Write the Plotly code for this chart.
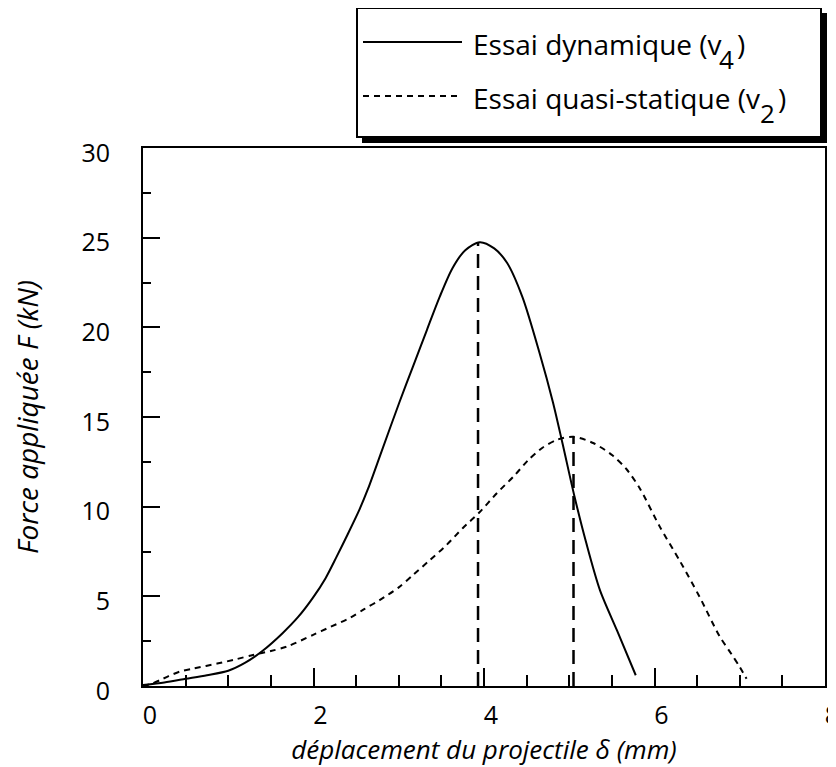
import plotly.graph_objects as go

# Essai dynamique (v4) - courbe continue
dyn_x = [0.0, 0.25, 0.5, 0.75, 1.0, 1.2, 1.4, 1.64, 1.82, 1.99, 2.14, 2.27, 2.4,
         2.54, 2.64, 2.8, 3.01, 3.17, 3.33, 3.48, 3.63, 3.78, 3.95, 4.12, 4.27,
         4.45, 4.65, 4.81, 4.92, 5.06, 5.2, 5.36, 5.56, 5.78]
dyn_F = [0.05, 0.2, 0.4, 0.6, 0.85, 1.3, 1.95, 2.96, 3.85, 4.9, 6.0, 7.2, 8.45,
         9.85, 11.0, 13.1, 15.85, 17.85, 19.85, 21.7, 23.3, 24.3, 24.75, 24.4, 23.6,
         21.7, 18.6, 15.8, 13.55, 10.6, 7.97, 5.35, 3.1, 0.6]

# Essai quasi-statique (v2) - courbe pointillée
qs_x = [0.0, 0.1, 0.2, 0.3, 0.43, 0.6, 0.87, 1.1, 1.29, 1.5, 1.69, 1.99, 2.2,
        2.43, 2.6, 2.78, 3.0, 3.17, 3.36, 3.56, 3.75, 3.95, 4.15, 4.35, 4.52,
        4.69, 4.87, 5.05, 5.28, 5.51, 5.67, 5.83, 6.06, 6.3, 6.53, 6.76, 6.9,
        7.0, 7.08]
qs_F = [0.0, 0.12, 0.33, 0.55, 0.8, 0.98, 1.25, 1.5, 1.73, 1.95, 2.2, 2.84, 3.3,
        3.8, 4.3, 4.8, 5.5, 6.2, 7.0, 7.86, 8.8, 9.7, 10.75, 11.7, 12.6,
        13.3, 13.75, 13.9, 13.55, 12.85, 12.1, 11.0, 8.9, 6.95, 4.96, 2.8, 1.8,
        1.06, 0.4]

# Positions des maxima (lignes verticales)
peak_x = [3.93, 5.05]
peak_F = [24.75, 13.9]

x_ticks = [0, 2, 4, 6, 8]
y_ticks = [0, 5, 10, 15, 20, 25, 30]

FONT = "Open Sans"

fig = go.Figure()

fig.add_trace(go.Scatter(
    x=dyn_x, y=dyn_F, mode="lines",
    line=dict(color="black", width=2, shape="spline", smoothing=0.8),
    name="Essai dynamique (v4)",
))
fig.add_trace(go.Scatter(
    x=qs_x, y=qs_F, mode="lines",
    line=dict(color="black", width=2, dash="6px,5px", shape="spline", smoothing=0.8),
    name="Essai quasi-statique (v2)",
))
for px_, pf in zip(peak_x, peak_F):
    fig.add_trace(go.Scatter(
        x=[px_, px_], y=[0, pf], mode="lines",
        line=dict(color="black", width=2.5, dash="14px,8px"),
        showlegend=False, hoverinfo="skip",
    ))

fig.update_xaxes(
    range=[0, 8], tickvals=x_ticks, automargin=False,
    ticks="inside", ticklen=18, tickwidth=2, tickcolor="black",
    minor=dict(dtick=0.5, ticks="inside", ticklen=11, tickwidth=2, tickcolor="black"),
    showline=True, linewidth=2, linecolor="black", mirror=True,
    showgrid=False, zeroline=False,
    tickfont=dict(family=FONT, size=25, color="black"),
    ticklabelstandoff=6, ticklabelshift=7, ticklabeloverflow="allow",
    title=dict(text="déplacement du projectile δ (mm)",
               font=dict(family=FONT, size=26, color="black", style="italic"),
               standoff=7),
)
fig.update_yaxes(
    range=[0, 30], tickvals=y_ticks, automargin=False,
    ticks="inside", ticklen=17, tickwidth=2, tickcolor="black",
    minor=dict(dtick=2.5, ticks="inside", ticklen=8, tickwidth=2, tickcolor="black"),
    showline=True, linewidth=2, linecolor="black", mirror=True,
    showgrid=False, zeroline=False,
    tickfont=dict(family=FONT, size=25, color="black"),
    ticklabelstandoff=26, ticklabelshift=5,
    title=dict(text="Force appliquée F (kN)",
               font=dict(family=FONT, size=28, color="black", style="italic"),
               standoff=56),
)


# legend box drawn by hand (long line samples + drop shadow)
# page coords -> paper coords (plot area spans 143..825 x 148..686 on the page)
def px_to_paper(xp, yp):
    return (xp - 143) / 682, (686 - yp) / 538


x0, y0 = px_to_paper(362, 13)
x1, y1 = px_to_paper(827, 143)
fig.add_shape(type="rect", xref="paper", yref="paper", x0=x0, x1=x1, y0=y1, y1=y0,
              fillcolor="black", line=dict(width=0), layer="above")
x0, y0 = px_to_paper(357, 8)
x1, y1 = px_to_paper(821, 137)
fig.add_shape(type="rect", xref="paper", yref="paper", x0=x0, x1=x1, y0=y1, y1=y0,
              fillcolor="white", line=dict(color="black", width=2), layer="above")


def add_text(text, xp, yp, anchor, size):
    tx, ty = px_to_paper(xp, yp)
    fig.add_annotation(xref="paper", yref="paper", x=tx, y=ty, text=text,
                       showarrow=False, xanchor=anchor, yanchor="middle",
                       font=dict(family=FONT, size=size, color="black"))


# (label, subscript, line y, end of "(v" in px, dash)
entries = [("Essai dynamique (v", "4", 42, 717, "solid"),
           ("Essai quasi-statique (v", "2", 96, 758, "6px,5px")]
for label, digit, ypix, xend, dash in entries:
    lx0, ly = px_to_paper(363, ypix)
    lx1, _ = px_to_paper(462, ypix)
    fig.add_shape(type="line", xref="paper", yref="paper", x0=lx0, x1=lx1, y0=ly, y1=ly,
                  line=dict(color="black", width=2, dash=dash), layer="above")
    add_text(label, 471, ypix + 2, "left", 28)
    add_text(digit, xend, ypix + 17, "left", 26)
    add_text(")", xend + 18, ypix + 2, "left", 28)

# page body has an 8px margin: shrink the figure so the plot lands where the reference has it
fig.update_layout(
    width=828, height=759,
    margin=dict(l=135, r=11, t=140, b=81),
    paper_bgcolor="white", plot_bgcolor="white",
    showlegend=False,
    font=dict(family=FONT, color="black"),
)

fig.write_html("out.html")
